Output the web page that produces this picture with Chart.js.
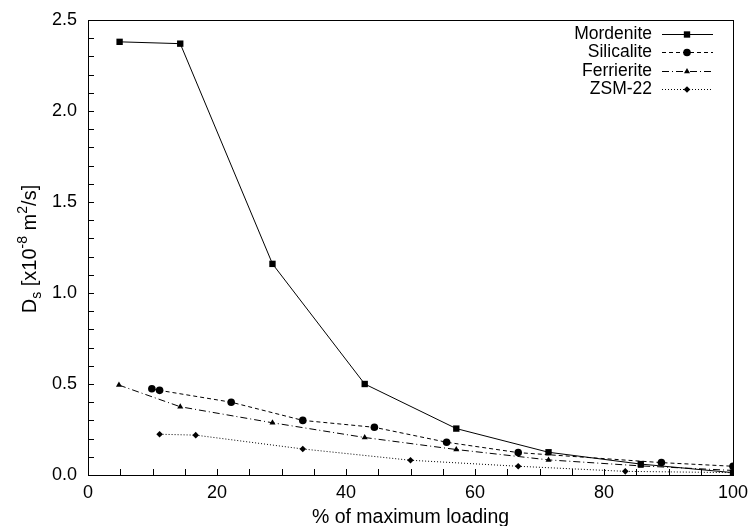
<!DOCTYPE html>
<html>
<head>
<meta charset="utf-8">
<script src="https://cdn.jsdelivr.net/npm/chart.js@4/dist/chart.umd.min.js"></script>
<style>
  html, body { margin: 0; padding: 0; background: #fff; }
  #wrap { width: 750px; height: 526px; }
</style>
</head>
<body>
<div id="wrap"><canvas id="c" width="750" height="526"></canvas></div>
<script>
'use strict';

// series data
var seriesNames = ['Mordenite', 'Silicalite', 'Ferrierite', 'ZSM-22'];

var mordX = [4.9, 14.3, 28.6, 42.9, 57.1, 71.4, 85.7, 100];
var mordY = [2.38, 2.37, 1.16, 0.50, 0.255, 0.125, 0.06, 0.013];

var silX = [9.9, 11.1, 22.2, 33.3, 44.4, 55.6, 66.7, 88.9, 100];
var silY = [0.474, 0.465, 0.40, 0.30, 0.262, 0.18, 0.123, 0.068, 0.048];

var ferX = [4.8, 14.3, 28.6, 42.9, 57.1, 71.4, 85.7, 100];
var ferY = [0.494, 0.375, 0.287, 0.206, 0.14, 0.083, 0.05, 0.025];

var zsmX = [11.1, 16.7, 33.3, 50, 66.7, 83.3, 100];
var zsmY = [0.224, 0.219, 0.143, 0.081, 0.048, 0.02, 0.013];

var xTicks = [0, 20, 40, 60, 80, 100];
var yTicks = [0.0, 0.5, 1.0, 1.5, 2.0, 2.5];

function pts(xs, ys) {
    var out = [];
    for (var i = 0; i < xs.length; i++) out.push({ x: xs[i], y: ys[i] });
    return out;
}

var FONT = '"Liberation Sans", Arial, sans-serif';

function ds(name, xs, ys, dash, style, r) {
    return {
        label: name,
        data: pts(xs, ys),
        showLine: true,
        borderColor: '#000',
        backgroundColor: '#000',
        borderWidth: 1,
        borderDash: dash,
        pointStyle: style,
        pointRadius: r,
        pointHoverRadius: r,
        pointBorderWidth: 0
    };
}

// frame, inward ticks, y title, legend
var decor = {
    id: 'decor',
    afterDraw: function(chart) {
        var ctx = chart.ctx;
        var a = chart.chartArea;
        var xs = chart.scales.x, ys = chart.scales.y;
        ctx.save();
        ctx.strokeStyle = '#000';
        ctx.lineWidth = 1;
        ctx.strokeRect(a.left + 0.5, a.top + 0.5, a.right - a.left, a.bottom - a.top);

        ctx.beginPath();
        for (var v = 5; v < 100; v += 5) {
            var px = Math.round(xs.getPixelForValue(v)) + 0.5;
            ctx.moveTo(px, a.bottom);
            ctx.lineTo(px, a.bottom - 6);
        }
        for (var k = 1; k < 25; k++) {
            var py = Math.round(ys.getPixelForValue(k / 10)) + 0.5;
            ctx.moveTo(a.left, py);
            ctx.lineTo(a.left + 6, py);
        }
        ctx.stroke();

        // y axis title with sub/superscripts
        ctx.save();
        ctx.translate(36, 249);
        ctx.rotate(-Math.PI / 2);
        ctx.fillStyle = '#000';
        ctx.textBaseline = 'alphabetic';
        var big = '20px ' + FONT, small = '14px ' + FONT;
        var parts = [
            ['D', big, 0], ['s', small, 5], [' [x10', big, 0], ['-8', small, -9],
            [' m', big, 0], ['2', small, -9], ['/s]', big, 0]
        ];
        var total = 0;
        parts.forEach(function(p) { ctx.font = p[1]; total += ctx.measureText(p[0]).width; });
        var cx = -total / 2;
        parts.forEach(function(p) {
            ctx.font = p[1];
            ctx.fillText(p[0], cx, p[2]);
            cx += ctx.measureText(p[0]).width;
        });
        ctx.restore();

        // legend: text right aligned, line sample to its right
        ctx.font = '17.5px ' + FONT;
        ctx.textAlign = 'right';
        ctx.textBaseline = 'middle';
        chart.data.datasets.forEach(function(d, i) {
            var y = Math.round(34 + i * 18.3);
            ctx.fillStyle = '#000';
            ctx.fillText(d.label, 652, y);
            ctx.beginPath();
            ctx.setLineDash(d.borderDash);
            ctx.moveTo(662, y + 0.5);
            ctx.lineTo(713, y + 0.5);
            ctx.stroke();
            ctx.setLineDash([]);
            Chart.helpers.drawPoint(ctx, { pointStyle: d.pointStyle, radius: d.pointRadius, rotation: 0, borderWidth: 0 }, 687, y + 0.5);
        });
        ctx.restore();
    }
};

new Chart(document.getElementById('c'), {
    type: 'scatter',
    data: {
        datasets: [
            ds(seriesNames[0], mordX, mordY, [], 'rect', 4.5),
            ds(seriesNames[1], silX, silY, [4, 3], 'circle', 3.8),
            ds(seriesNames[2], ferX, ferY, [7, 3, 1, 3], 'triangle', 3.5),
            ds(seriesNames[3], zsmX, zsmY, [1, 2], 'rectRot', 3.3)
        ]
    },
    plugins: [decor],
    options: {
        responsive: false,
        animation: false,
        layout: { padding: { top: 20, right: 17, left: 0, bottom: 0 } },
        plugins: { legend: { display: false }, tooltip: { enabled: false } },
        scales: {
            x: {
                type: 'linear', min: 0, max: 100,
                afterFit: function(s) { s.height = 51; s.paddingLeft = 0; s.paddingRight = 0; },
                afterBuildTicks: function(s) { s.ticks = xTicks.map(function(v) { return { value: v }; }); },
                grid: { display: false, drawTicks: false },
                border: { display: false },
                ticks: { color: '#000', font: { family: FONT, size: 18 }, padding: 7, maxRotation: 0 },
                title: { display: true, text: '% of maximum loading', color: '#000', font: { family: FONT, size: 19.5 }, padding: { top: 0, bottom: -3 } }
            },
            y: {
                type: 'linear', min: 0, max: 2.5,
                afterFit: function(s) { s.width = 88; s.paddingTop = 0; s.paddingBottom = 0; },
                afterBuildTicks: function(s) { s.ticks = yTicks.map(function(v) { return { value: v }; }); },
                grid: { display: false, drawTicks: false },
                border: { display: false },
                ticks: { color: '#000', font: { family: FONT, size: 18 }, padding: 11,
                    callback: function(v) { return v.toFixed(1); } }
            }
        }
    }
});
</script>
</body>
</html>
